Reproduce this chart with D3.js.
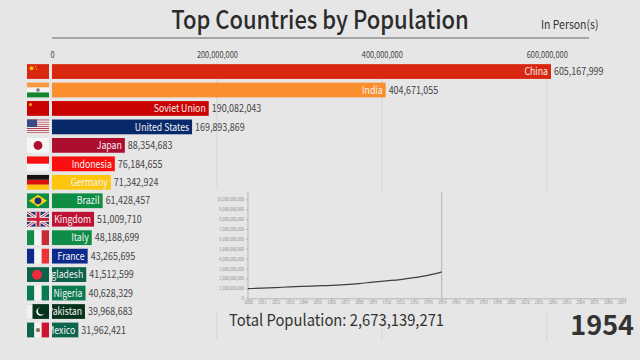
<!DOCTYPE html>
<html>
<head>
<meta charset="utf-8">
<script src="https://cdn.jsdelivr.net/npm/d3@7"></script>
<style>
    html, body { margin: 0; padding: 0; background: #e6e6e6; overflow: hidden; }
    text { font-family: "Noto Sans CJK SC", "Noto Sans", sans-serif; }
</style>
</head>
<body>
<div id="my_dataviz"></div>
<script>
// bar race frame data
var countries = ["China", "India", "Soviet Union", "United States", "Japan", "Indonesia", "Germany", "Brazil",
    "United Kingdom", "Italy", "France", "Bangladesh", "Nigeria", "Pakistan", "Mexico"];
var population = [605167999, 404671055, 190082043, 169893869, 88354683, 76184655, 71342924, 61428457,
    51009710, 48188699, 43265695, 41512599, 40628329, 39968683, 31962421];
var barColors = ["#d8260f", "#fb8f2f", "#cb0202", "#07296a", "#ad0e30", "#f90f0f", "#fdc60c", "#0e8e45",
    "#bf1232", "#0e8c47", "#0c2a8c", "#0b6149", "#0b7a50", "#06331c", "#0c654c"];
var topTicks = [0, 200000000, 400000000, 600000000];

// world total line (inset)
var lineYears = [1800, 1811, 1822, 1833, 1844, 1855, 1866, 1877, 1888, 1899, 1910, 1921, 1932, 1943, 1950, 1954];
var lineTotals = [0.98e9, 1.02e9, 1.08e9, 1.15e9, 1.21e9, 1.26e9, 1.31e9, 1.39e9, 1.49e9, 1.63e9, 1.76e9, 1.89e9, 2.08e9, 2.32e9, 2.52e9, 2.673e9];
var insetYearTicks = [1800, 1811, 1822, 1833, 1844, 1855, 1866, 1877, 1888, 1899, 1910, 1921, 1932, 1943, 1954,
    1965, 1976, 1987, 1998, 2009, 2020, 2031, 2042, 2053, 2064, 2075, 2086, 2097];
var insetValueTicks = [0, 1e9, 2e9, 3e9, 4e9, 5e9, 6e9, 7e9, 8e9, 9e9, 10e9];

var currentYear = "1954";
var totalPopulation = 2673139271;

var width = 640, height = 360;
var textColor = "#333333";
var fmt = d3.format(",");

// the reference type is a bit narrower than the installed font, so squeeze it
function squeeze(sel, k) {
    sel.each(function () {
        d3.select(this)
            .attr("textLength", this.getComputedTextLength() * k)
            .attr("lengthAdjust", "spacingAndGlyphs");
    });
}

var svg = d3.select("#my_dataviz")
    .append("svg")
    .attr("width", width)
    .attr("height", height)
    .style("display", "block");

svg.append("rect").attr("width", width).attr("height", height).attr("fill", "#e6e6e6");

// scales for the main bars
var x = d3.scaleLinear().domain([0, 600000000]).range([52, 546.7]);
var y = d3.scaleBand().domain(countries).range([62.3, 339.2]).paddingInner(0.2).paddingOuter(0.1);

// title
svg.append("text")
    .attr("x", 320)
    .attr("y", 29)
    .attr("text-anchor", "middle")
    .style("font-size", "25px")
    .style("font-weight", 500)
    .attr("fill", "#2b2b2b")
    .text("Top Countries by Population")
    .call(squeeze, 0.88);

svg.append("text")
    .attr("x", 541)
    .attr("y", 29)
    .style("font-size", "12px")
    .attr("fill", textColor)
    .text("In Person(s)")
    .call(squeeze, 0.87);

svg.append("line")
    .attr("x1", 52).attr("x2", 589)
    .attr("y1", 38).attr("y2", 38)
    .attr("stroke", "#666666")
    .attr("stroke-width", 1);

// gridlines
svg.append("g")
    .selectAll("line")
    .data(topTicks.slice(1))
    .enter().append("line")
    .attr("x1", d => x(d)).attr("x2", d => x(d))
    .attr("y1", 62).attr("y2", 340)
    .attr("stroke", "#d6d6d6");

// top axis
var topAxis = svg.append("g")
    .attr("transform", "translate(0,61)")
    .call(d3.axisTop(x).tickValues(topTicks).tickSize(0).tickFormat(fmt));
topAxis.select(".domain").remove();
topAxis.selectAll("text")
    .style("font-size", "8.5px")
    .attr("fill", "#444444")
    .call(squeeze, 0.87);

// bars
svg.append("defs")
    .selectAll("clipPath")
    .data(countries)
    .enter().append("clipPath")
    .attr("id", (d, i) => "bar-clip-" + i)
    .append("rect")
    .attr("x", x(0))
    .attr("y", d => y(d))
    .attr("width", (d, i) => x(population[i]) - x(0))
    .attr("height", y.bandwidth());

var rows = svg.append("g")
    .selectAll("g")
    .data(countries)
    .enter().append("g");

rows.append("rect")
    .attr("x", x(0))
    .attr("y", d => y(d))
    .attr("width", (d, i) => x(population[i]) - x(0))
    .attr("height", y.bandwidth())
    .attr("fill", (d, i) => barColors[i]);

// names are clipped by the bar, that is how the short bars cut them
rows.append("text")
    .attr("clip-path", (d, i) => "url(#bar-clip-" + i + ")")
    .attr("x", (d, i) => x(population[i]) - 3)
    .attr("y", d => y(d) + y.bandwidth() / 2)
    .attr("dy", "0.35em")
    .attr("text-anchor", "end")
    .style("font-size", "10.5px")
    .attr("fill", "#f4f4f4")
    .text(d => d)
    .call(squeeze, 0.83);

rows.append("text")
    .attr("x", (d, i) => x(population[i]) + 3)
    .attr("y", d => y(d) + y.bandwidth() / 2)
    .attr("dy", "0.35em")
    .style("font-size", "10.5px")
    .attr("fill", "#444444")
    .text((d, i) => fmt(population[i]))
    .call(squeeze, 0.85);

// flags
var flagW = 22, flagH = y.bandwidth();

function box(g, px, py, pw, ph, fill) {
    g.append("rect").attr("x", px).attr("y", py).attr("width", pw).attr("height", ph).attr("fill", fill);
}
function dot(g, cx, cy, r, fill) {
    g.append("circle").attr("cx", cx).attr("cy", cy).attr("r", r).attr("fill", fill);
}
function stripesV(g, c) {
    c.forEach((col, i) => box(g, i * flagW / c.length, 0, flagW / c.length, flagH, col));
}
function stripesH(g, c) {
    c.forEach((col, i) => box(g, 0, i * flagH / c.length, flagW, flagH / c.length, col));
}

var flagDraw = {
    "China": g => { box(g, 0, 0, flagW, flagH, "#d8260f"); dot(g, 4.5, 4, 2, "#f5c40f"); dot(g, 8.5, 2.5, 0.6, "#f5c40f"); dot(g, 9.5, 5, 0.6, "#f5c40f"); },
    "India": g => { stripesH(g, ["#f89a3c", "#f4f4f4", "#14852f"]); dot(g, 11, 7.5, 1.8, "#7a7a90"); },
    "Soviet Union": g => { box(g, 0, 0, flagW, flagH, "#cb0202"); dot(g, 3.5, 3.5, 1.6, "#eea020"); },
    "United States": g => {
        d3.range(7).forEach(i => box(g, 0, i * flagH / 7, flagW, flagH / 14, "#b4384e"));
        d3.range(7).forEach(i => box(g, 0, (i + 0.5) * flagH / 7, flagW, flagH / 14, "#eeeeee"));
        box(g, 0, 0, 10, 7.5, "#3b4a85");
    },
    "Japan": g => { box(g, 0, 0, flagW, flagH, "#f6f6f6"); dot(g, 11, 7.5, 4.4, "#ad0e30"); },
    "Indonesia": g => stripesH(g, ["#f90f0f", "#f6f6f6"]),
    "Germany": g => stripesH(g, ["#141414", "#dd1010", "#fdc60c"]),
    "Brazil": g => {
        box(g, 0, 0, flagW, flagH, "#0e8e45");
        g.append("path").attr("d", d3.line()([[2, 7.5], [11, 1.5], [20, 7.5], [11, 13.5]])).attr("fill", "#f2d21a");
        dot(g, 11, 7.5, 3.4, "#1c2f73");
    },
    "United Kingdom": g => {
        box(g, 0, 0, flagW, flagH, "#26306e");
        g.append("path").attr("d", "M0,0L22,15M22,0L0,15").attr("stroke", "#f2f2f2").attr("stroke-width", 3);
        g.append("path").attr("d", "M0,0L22,15M22,0L0,15").attr("stroke", "#c8203a").attr("stroke-width", 1);
        box(g, 8.5, 0, 5, flagH, "#f2f2f2");
        box(g, 0, 5, flagW, 5, "#f2f2f2");
        box(g, 9.5, 0, 3, flagH, "#c8203a");
        box(g, 0, 6, flagW, 3, "#c8203a");
    },
    "Italy": g => stripesV(g, ["#0e8c47", "#f4f4f4", "#c92a38"]),
    "France": g => stripesV(g, ["#0c2a8c", "#f4f4f4", "#ee3038"]),
    "Bangladesh": g => { box(g, 0, 0, flagW, flagH, "#0b6149"); dot(g, 10, 7.5, 5, "#ee2a3c"); },
    "Nigeria": g => stripesV(g, ["#0b7a50", "#f4f4f4", "#0b7a50"]),
    "Pakistan": g => {
        box(g, 0, 0, flagW, flagH, "#06331c");
        box(g, 0, 0, 5.5, flagH, "#f4f4f4");
        dot(g, 13.5, 7.5, 4.2, "#f4f4f4");
        dot(g, 14.7, 6.6, 3.8, "#06331c");
    },
    "Mexico": g => { stripesV(g, ["#0c654c", "#f2f2f2", "#ce1430"]); dot(g, 11, 7.5, 2.2, "#8a7a5e"); }
};

svg.append("g")
    .selectAll("g")
    .data(countries)
    .enter().append("g")
    .attr("transform", d => "translate(27," + y(d) + ")")
    .each(function (d) { flagDraw[d](d3.select(this)); });

// inset chart sits on a plain panel which hides the gridlines
svg.append("rect")
    .attr("x", 205).attr("y", 190)
    .attr("width", 425).attr("height", 122)
    .attr("fill", "#e6e6e6");

var insetX = d3.scaleLinear().domain([1800, 2100]).range([248, 625.4]);
var insetY = d3.scaleLinear().domain([0, 10e9]).range([298.3, 199.3]);

var insetLeft = svg.append("g")
    .attr("transform", "translate(248,0)")
    .call(d3.axisLeft(insetY).tickValues(insetValueTicks).tickSize(2).tickPadding(2).tickFormat(fmt));
insetLeft.select(".domain").attr("d", "M0,192V298.3").attr("stroke", "#b5b5b5");

var insetBottom = svg.append("g")
    .attr("transform", "translate(0,298.3)")
    .call(d3.axisBottom(insetX).tickValues(insetYearTicks).tickSize(2).tickPadding(1).tickFormat(d3.format("d")));
insetBottom.select(".domain").attr("stroke", "#b5b5b5");

[insetLeft, insetBottom].forEach(function (a) {
    a.selectAll("text").style("font-size", "4.4px").attr("fill", "#8c8c8c").call(squeeze, 0.88);
    a.selectAll("line").attr("stroke", "#b5b5b5");
});

// current year marker
svg.append("line")
    .attr("x1", insetX(+currentYear)).attr("x2", insetX(+currentYear))
    .attr("y1", 192).attr("y2", 298.3)
    .attr("stroke", "#b0b0b0");

var totalLine = d3.line()
    .x(d => insetX(d[0]))
    .y(d => insetY(d[1]))
    .curve(d3.curveMonotoneX);

svg.append("path")
    .datum(lineYears.map((d, i) => [d, lineTotals[i]]))
    .attr("d", totalLine)
    .attr("fill", "none")
    .attr("stroke", "#3f3f3f")
    .attr("stroke-width", 1.2);

// total + year
svg.append("text")
    .attr("x", 229)
    .attr("y", 326)
    .style("font-size", "16.5px")
    .attr("fill", textColor)
    .text("Total Population: " + fmt(totalPopulation))
    .call(squeeze, 0.895);

svg.append("text")
    .attr("x", 634)
    .attr("y", 335)
    .attr("text-anchor", "end")
    .style("font-size", "27px")
    .style("font-weight", 700)
    .attr("fill", textColor)
    .text(currentYear);
</script>
</body>
</html>
